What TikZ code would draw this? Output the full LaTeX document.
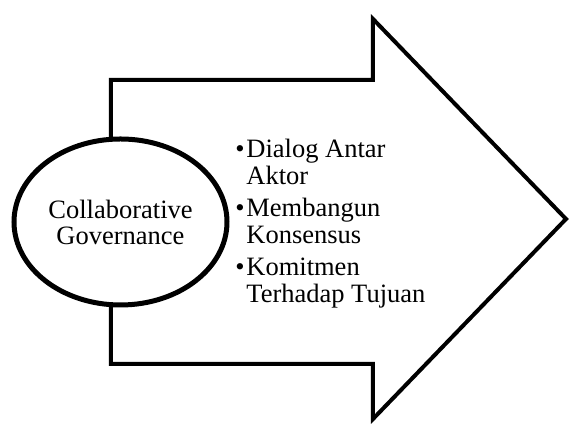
\documentclass[tikz,border=0pt]{standalone}
\usepackage{fontspec}
\setmainfont{Liberation Serif}
\usetikzlibrary{shapes.geometric,positioning}

\begin{document}
\begin{tikzpicture}[x=0.5pt,y=0.5pt,
    every node/.style={font=\fontsize{13.25}{13.5}\selectfont},
    ellip/.style={ellipse, draw, line width=2.5pt, fill=white,
        minimum width=106.5pt, minimum height=83pt, align=center, inner sep=0pt,
        font=\fontsize{13.25}{13}\selectfont},
    item/.style={anchor=base west, align=left, inner sep=0pt},
    dot/.style={anchor=base east, inner sep=0pt}]
    \useasboundingbox (0,0) rectangle (570,426);

    % big arrow
    \draw[line width=2pt, miter limit=10] (111,346) -- (373,346) -- (373,407)
        -- (566,207) -- (373,7) -- (373,62) -- (111,62) -- cycle;

    \node[ellip] (cg) at (120.5,204) {Collaborative\\Governance};

    % base = last line of each item
    \node[item] (dialog) at (246,241) {Dialog Antar\\Aktor};
    \node[item] (membangun) at ([yshift=-29.5pt]dialog.base west) {Membangun\\Konsensus};
    \node[item] (komitmen) at ([yshift=-29.5pt]membangun.base west) {Komitmen\\Terhadap Tujuan};
    \foreach \n in {dialog,membangun,komitmen}
        \node[dot] (\n-dot) at ([xshift=-0.5pt,yshift=13.5pt]\n.base west) {\textbullet};
\end{tikzpicture}
\end{document}
